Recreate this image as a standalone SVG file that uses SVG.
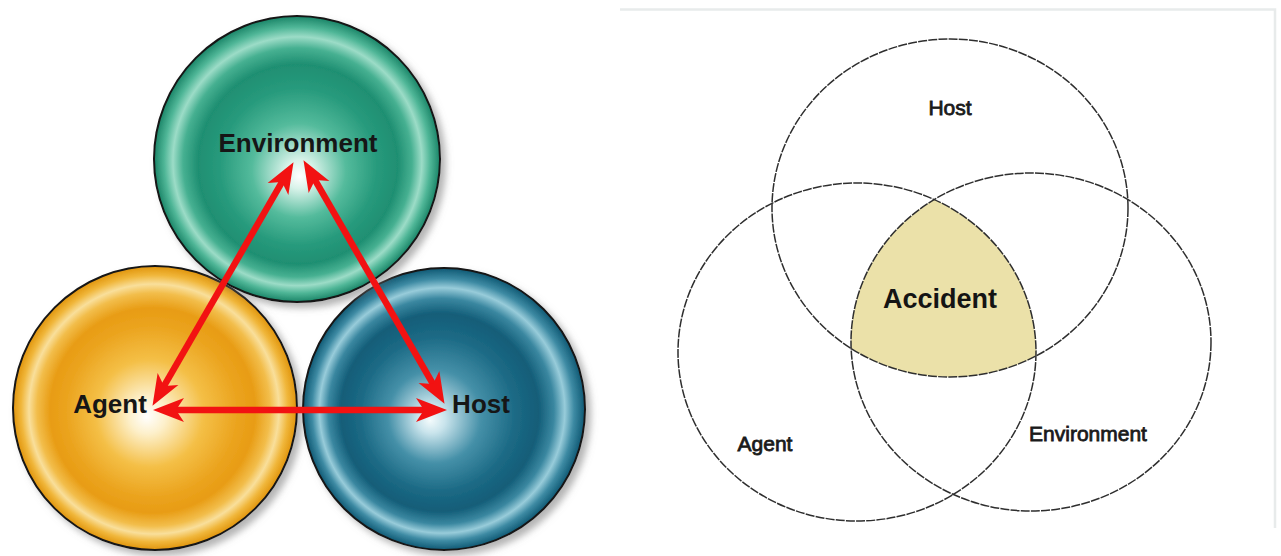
<svg xmlns="http://www.w3.org/2000/svg" width="1281" height="556" viewBox="0 0 1281 556">
<style>
.ball{stroke:#151515;stroke-width:2}
.lbl{font-family:"Liberation Sans",Arial,sans-serif;font-weight:bold;font-size:26px;fill:#161616;text-anchor:middle}
.arrow{stroke:#f21212;stroke-width:6.5;fill:none}
.venn{fill:none;stroke:#2e2e2e;stroke-width:1.5;stroke-dasharray:9 1.2}
.vlbl{font-family:"Liberation Sans",Arial,sans-serif;font-size:21px;fill:#1a1a1a;stroke:#1a1a1a;stroke-width:0.8;text-anchor:middle}
.acc{font-family:"Liberation Sans",Arial,sans-serif;font-weight:bold;font-size:27px;fill:#141414;text-anchor:middle}
</style>
<defs>
<filter id="shadow" x="-20%" y="-20%" width="150%" height="150%">
<feDropShadow dx="5" dy="5" stdDeviation="3.5" flood-color="#777" flood-opacity="0.55"/>
</filter>
<radialGradient id="gEnv" cx="0.5" cy="0.5" r="0.5" fx="0.51" fy="0.56">
<stop offset="0" stop-color="#ffffff"/>
<stop offset="0.1" stop-color="#d9f3ea"/>
<stop offset="0.33" stop-color="#54bb9c"/>
<stop offset="0.55" stop-color="#279a7c"/>
<stop offset="0.7" stop-color="#1f8f72"/>
<stop offset="0.8" stop-color="#46b091"/>
<stop offset="0.87" stop-color="#9cdcc7"/>
<stop offset="0.93" stop-color="#4fb697"/>
<stop offset="1" stop-color="#1a8467"/>
</radialGradient>
<radialGradient id="gAgent" cx="0.5" cy="0.5" r="0.5" fx="0.47" fy="0.53">
<stop offset="0" stop-color="#ffffff"/>
<stop offset="0.13" stop-color="#fdf0cb"/>
<stop offset="0.38" stop-color="#f4bf46"/>
<stop offset="0.6" stop-color="#eba41f"/>
<stop offset="0.72" stop-color="#e89c14"/>
<stop offset="0.82" stop-color="#f2bd4a"/>
<stop offset="0.88" stop-color="#f9df9b"/>
<stop offset="0.94" stop-color="#f0b63a"/>
<stop offset="1" stop-color="#e0940c"/>
</radialGradient>
<radialGradient id="gHost" cx="0.5" cy="0.5" r="0.5" fx="0.45" fy="0.54">
<stop offset="0" stop-color="#f4fbfc"/>
<stop offset="0.1" stop-color="#c9e4ec"/>
<stop offset="0.33" stop-color="#4590a8"/>
<stop offset="0.55" stop-color="#1c6a85"/>
<stop offset="0.7" stop-color="#135d78"/>
<stop offset="0.8" stop-color="#3a87a0"/>
<stop offset="0.87" stop-color="#98ccda"/>
<stop offset="0.93" stop-color="#3d8aa3"/>
<stop offset="1" stop-color="#0f5873"/>
</radialGradient>
<marker id="head" viewBox="0 -13 31 26" markerWidth="31" markerHeight="26" refX="20" refY="0" orient="auto-start-reverse" markerUnits="userSpaceOnUse">
<path d="M0,-12 L31,0 L0,12 L8,0 Z" fill="#f21212"/>
</marker>
<clipPath id="clipAgent"><ellipse cx="857" cy="352" rx="179" ry="169"/></clipPath>
<clipPath id="clipEnv"><ellipse cx="1031" cy="342" rx="180" ry="169"/></clipPath>
</defs>

<rect width="1281" height="556" fill="#ffffff"/>

<!-- Left: triad -->
<g id="agent-ball">
<circle class="ball" cx="155" cy="408" r="142" fill="url(#gAgent)" filter="url(#shadow)"/>
</g>
<g id="host-ball">
<circle class="ball" cx="444" cy="409" r="141" fill="url(#gHost)" filter="url(#shadow)"/>
</g>
<g id="environment-ball">
<circle class="ball" cx="297" cy="159" r="143" fill="url(#gEnv)" filter="url(#shadow)"/>
</g>

<g id="connectors">
<line class="arrow" x1="158" y1="396.3" x2="288" y2="171.7" marker-start="url(#head)" marker-end="url(#head)"/>
<line class="arrow" x1="309" y1="169.7" x2="439" y2="394.3" marker-start="url(#head)" marker-end="url(#head)"/>
<line class="arrow" x1="164" y1="410" x2="436" y2="410" marker-start="url(#head)" marker-end="url(#head)"/>
</g>

<g id="triad-labels">
<text class="lbl" x="298" y="152">Environment</text>
<text class="lbl" x="110" y="413">Agent</text>
<text class="lbl" x="481" y="413">Host</text>
</g>

<!-- Right: Venn panel -->
<g id="panel">
<polyline points="620,9.5 1275,9.5 1275,528" fill="none" stroke="#e8ebeb" stroke-width="2.5"/>
</g>

<g id="accident">
<g clip-path="url(#clipAgent)">
<g clip-path="url(#clipEnv)">
<ellipse cx="950" cy="208" rx="178" ry="169" fill="#ebe1a9"/>
</g>
</g>
</g>

<g id="venn-host"><ellipse class="venn" cx="950" cy="208" rx="178" ry="169"/></g>
<g id="venn-agent"><ellipse class="venn" cx="857" cy="352" rx="179" ry="169"/></g>
<g id="venn-environment"><ellipse class="venn" cx="1031" cy="342" rx="180" ry="169"/></g>

<g id="venn-labels">
<text class="vlbl" x="950" y="115">Host</text>
<text class="vlbl" x="765" y="451">Agent</text>
<text class="vlbl" x="1088" y="441">Environment</text>
<text class="acc" x="940" y="308">Accident</text>
</g>
</svg>
